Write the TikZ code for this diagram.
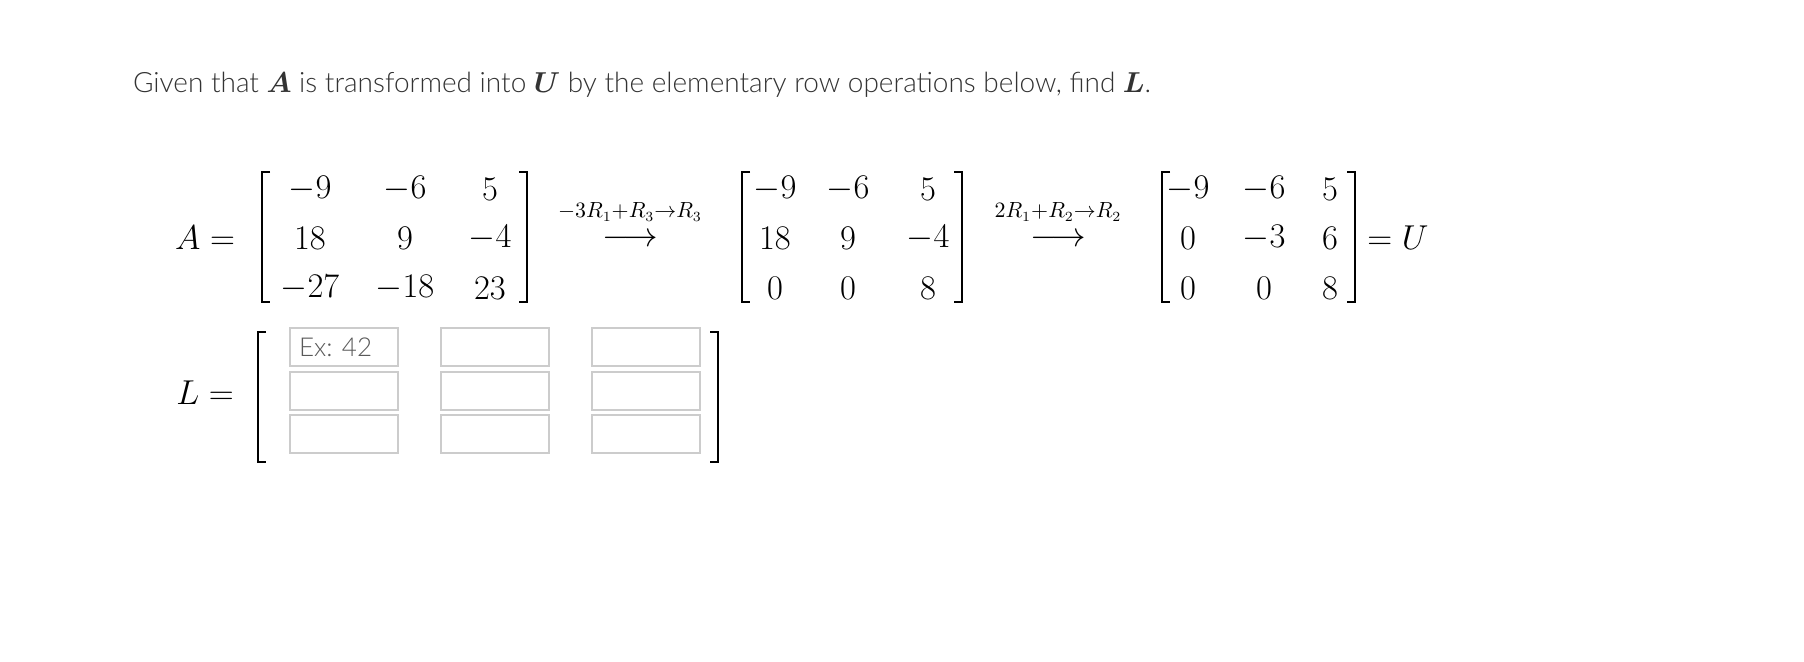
\documentclass[tikz,border=0pt]{standalone}
\usepackage{bm}
\usepackage{fontspec}
\setmainfont{Lato Light}
\begin{document}
\begin{tikzpicture}[x=0.5pt,y=-0.5pt,
  ent/.style={font=\fontsize{16}{18}\selectfont,anchor=center},
  brk/.style={line width=1.1pt},
  inbox/.style={draw=gray!40,line width=0.8pt,minimum width=54pt,minimum height=19pt,inner sep=0pt},
  oplab/.style={font=\fontsize{10.5}{12}\selectfont}]
\useasboundingbox (0,0) rectangle (1804,662);
\fill[white] (0,0) rectangle (1804,662);
\node[anchor=west,text=black!80,font=\fontsize{14}{16}\selectfont] (title) at (126,85)
 {Given that $\bm{A}$ is transformed into $\bm{U}$ by the elementary row operations below, find $\bm{L}$.};
\tikzset{lb/.pic={\draw[brk] (8,0)--(0,0)--(0,130)--(8,130);},
         rb/.pic={\draw[brk] (-8,0)--(0,0)--(0,130)--(-8,130);}}
\node[ent] (Alab) at (205,238) {$A=$};
\pic at (262,172) {lb}; \pic at (527,172) {rb};
\foreach \x/\a/\b/\c in {310/-9/18/-27, 405/-6/9/-18, 490/5/-4/23}{
 \node[ent] at (\x,189) {$\a$}; \node[ent] at (\x,238) {$\b$}; \node[ent] at (\x,288) {$\c$};}
\node[oplab] (op1) at (630,212) {$-3R_1{+}R_3{\to}R_3$};
\node[ent] (ar1) at (630,240) {$\longrightarrow$};
\pic at (742,172) {lb}; \pic at (962,172) {rb};
\foreach \x/\a/\b/\c in {775/-9/18/0, 848/-6/9/0, 928/5/-4/8}{
 \node[ent] at (\x,189) {$\a$}; \node[ent] at (\x,238) {$\b$}; \node[ent] at (\x,288) {$\c$};}
\node[oplab] (op2) at (1058,212) {$2R_1{+}R_2{\to}R_2$};
\node[ent] (ar2) at (1058,240) {$\longrightarrow$};
\pic at (1162,172) {lb}; \pic at (1355,172) {rb};
\foreach \x/\a/\b/\c in {1188/-9/0/0, 1264/-6/-3/0, 1330/5/6/8}{
 \node[ent] at (\x,189) {$\a$}; \node[ent] at (\x,238) {$\b$}; \node[ent] at (\x,288) {$\c$};}
\node[ent] (Ulab) at (1398,238) {$=U$};
\node[ent] (Llab) at (205,393) {$L=$};
\pic at (258,332) {lb}; \pic at (718,332) {rb};
\foreach \x in {344,495,646}{\foreach \y in {347,391,434}{\node[inbox] at (\x,\y) {};}}
\node[anchor=west,text=black!65,font=\fontsize{13}{15}\selectfont] (ex) at (292,347) {Ex: 42};
\end{tikzpicture}
\end{document}
